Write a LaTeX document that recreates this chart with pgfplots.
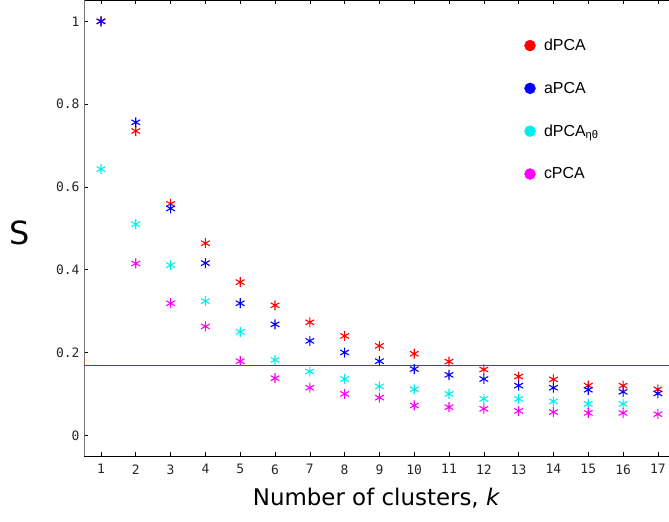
\documentclass[border=0pt]{standalone}
\usepackage{pgfplots}
\pgfplotsset{compat=1.18}
\usepackage{fontspec}
\setmainfont{DejaVu Sans}
\newfontfamily\monofont{DejaVu Sans Mono}
\newfontfamily\legfont{Liberation Sans}
\definecolor{cR}{RGB}{255,0,0}
\definecolor{cB}{RGB}{0,0,255}
\definecolor{cC}{RGB}{0,238,238}
\definecolor{cM}{RGB}{255,0,255}
\begin{document}
\begin{tikzpicture}[x=1bp,y=1bp]
\useasboundingbox (-84bp,-66bp) rectangle (585bp,456bp);
\begin{axis}[
  scale only axis,
  width=585bp, height=456bp,
  at={(0,0)}, anchor=south west,
  xmin=0.512, xmax=17.32,
  ymin=-0.05, ymax=1.0515,
  axis x line=box,
  axis y line=left,
  y axis line style={-, draw=black!55, line width=1pt},
  x axis line style={line width=0.8pt},
  xtick={1,...,17},
  ytick={0,0.2,0.4,0.6,0.8,1},
  yticklabels={0,0.2,0.4,0.6,0.8,1},
  tick align=inside,
  major tick length=4bp,
  tick style={black, line width=0.6pt},
  ytick pos=left,
  /pgf/number format/assume math mode=true,
  tick label style={font=\monofont\fontsize{13}{15}\selectfont, text=black!85},
  xticklabel style={yshift=-5bp},
  yticklabel style={xshift=-1bp},
  xlabel={Number of clusters, \textit{k}},
  xlabel style={font=\fontsize{23}{26}\selectfont, at={(rel axis cs:0.5,0)}, anchor=north, yshift=-29bp},
  ylabel={S},
  ylabel style={font=\fontsize{32}{34}\selectfont, rotate=-90, at={(rel axis cs:0,0.489)}, anchor=center, xshift=-64bp},
  legend style={draw=none, fill=white, at={(0.745,0.928)}, anchor=north west,
    font=\legfont\fontsize{16}{19}\selectfont, row sep=26bp,
    legend cell align=left, inner sep=4bp},
  legend image code/.code={\path[draw=none, fill=none] (-6bp,-5bp) rectangle (12bp,5bp); \fill (0bp,0bp) circle (5.5bp);},
  scat/.style={only marks, mark=asterisk, mark size=5bp, mark options={line width=1.1pt}},
]
\addplot[cR, solid, no markers, line width=0.9pt, forget plot] table {
x y
0.512 0.169
17.32 0.169
};
\addplot[scat, color=cR, fill=cR] coordinates {(1,1.0) (2,0.735) (3,0.559) (4,0.464) (5,0.370) (6,0.314) (7,0.273) (8,0.240) (9,0.216) (10,0.197) (11,0.178) (12,0.159) (13,0.142) (14,0.135) (15,0.120) (16,0.120) (17,0.111)};
\addlegendentry{dPCA}
\addplot[scat, color=cB, fill=cB] coordinates {(1,1.0) (2,0.756) (3,0.548) (4,0.416) (5,0.319) (6,0.268) (7,0.228) (8,0.200) (9,0.179) (10,0.160) (11,0.146) (12,0.136) (13,0.120) (14,0.115) (15,0.110) (16,0.105) (17,0.101)};
\addlegendentry{aPCA}
\addplot[scat, color=cC, fill=cC] coordinates {(1,0.643) (2,0.510) (3,0.411) (4,0.324) (5,0.250) (6,0.182) (7,0.154) (8,0.136) (9,0.118) (10,0.111) (11,0.100) (12,0.088) (13,0.088) (14,0.082) (15,0.076) (16,0.076)};
\addlegendentry{dPCA\textsubscript{ηθ}}
\addplot[scat, color=cM, fill=cM] coordinates {(2,0.415) (3,0.319) (4,0.263) (5,0.179) (6,0.138) (7,0.115) (8,0.100) (9,0.091) (10,0.072) (11,0.068) (12,0.064) (13,0.059) (14,0.056) (15,0.054) (16,0.054) (17,0.051)};
\addlegendentry{cPCA}
\end{axis}
\end{tikzpicture}
\end{document}
